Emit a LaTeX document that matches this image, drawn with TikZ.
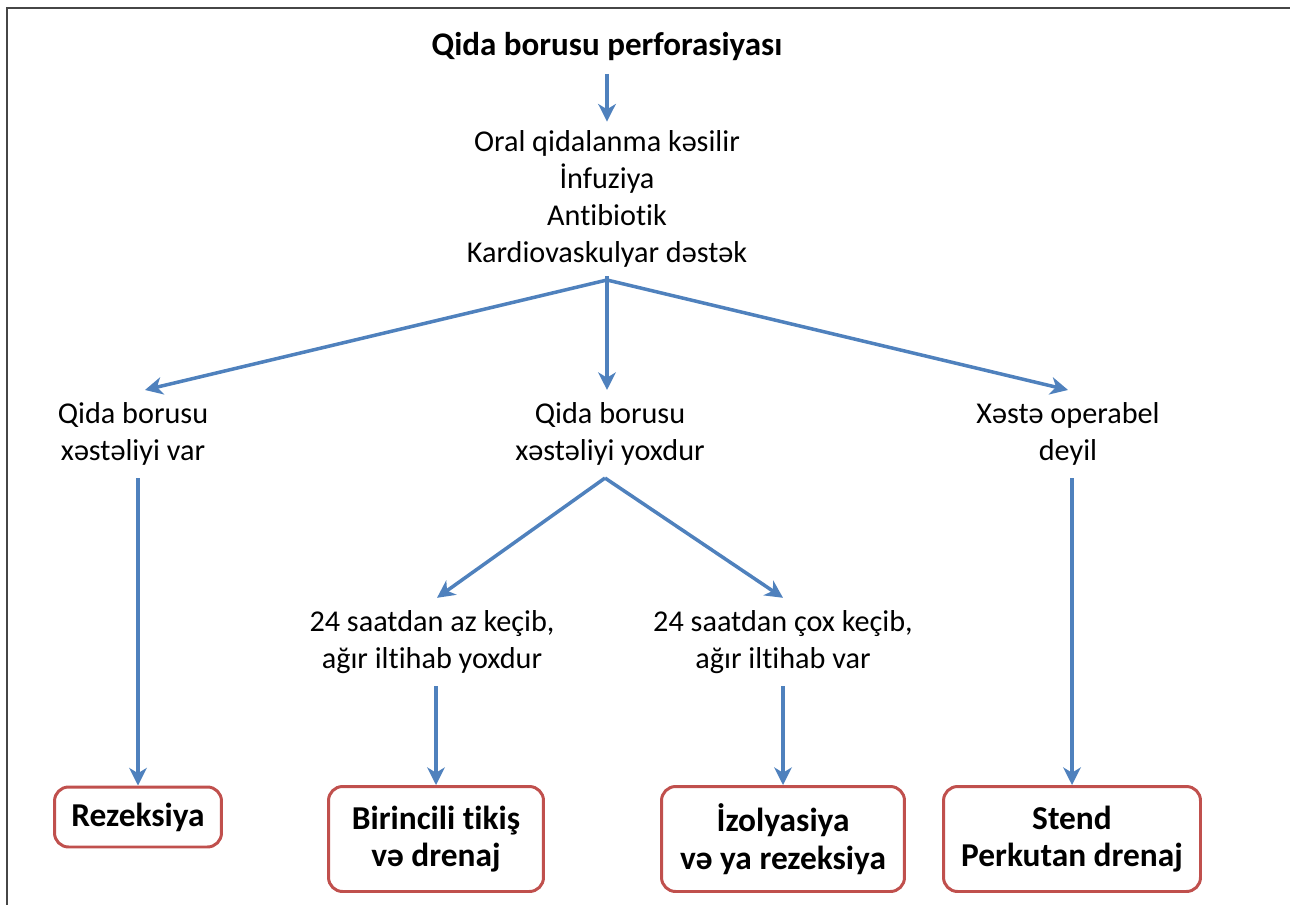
\documentclass[tikz,border=0pt]{standalone}
\usepackage{fontspec}
\setmainfont{Carlito}[Ligatures={NoCommon}]
\usepackage{tikz}
\usetikzlibrary{calc,positioning,arrows.meta}
\definecolor{flowblue}{RGB}{79,129,189}
\definecolor{boxred}{RGB}{192,80,77}
\definecolor{framegray}{RGB}{70,70,70}
\tikzstyle{txt}    = [align=center, inner sep=1pt]
\tikzstyle{result} = [draw=boxred, line width=1.7pt, rounded corners=8pt, align=center, font=\bfseries\fontsize{19pt}{21.5pt}\selectfont, inner sep=0pt]
\tikzstyle{arrow}  = [draw=flowblue, line width=2pt, -{Stealth[length=10pt,width=10pt,inset=3pt]}]

\begin{document}
\begin{tikzpicture}[x=0.02cm, y=-0.02cm,
			font=\fontsize{17.2pt}{21pt}\selectfont]
		\useasboundingbox (0,0) rectangle (1290,905);
		\draw[framegray, line width=1.2pt] (7,905) -- (7,8) -- (1290,8);

		\node[txt, font=\bfseries\fontsize{18.8pt}{21pt}\selectfont] (title) at (607,47) {Qida borusu perforasiyası};
		\node[txt] (care) at (607,199) {Oral qidalanma kəsilir\\İnfuziya\\Antibiotik\\Kardiovaskulyar dəstək};
		\coordinate (fork) at (607,280);

		\node[txt] (dis)   at (133,434) {Qida borusu\\xəstəliyi var};
		\node[txt] (nodis) at (610,434) {Qida borusu\\xəstəliyi yoxdur};
		\node[txt] (inop)  at (1068,434) {Xəstə operabel\\deyil};

		\node[txt] (early) at (432,642) {24 saatdan az keçib,\\ağır iltihab yoxdur};
		\node[txt] (late)  at (783,642) {24 saatdan çox keçib,\\ağır iltihab var};

		\node[result, minimum width=3.34cm, minimum height=1.2cm] (resect) at (138,817) {Rezeksiya};
		\node[result, minimum width=4.3cm, minimum height=2.1cm] (primary) at (436,839) {Birincili tikiş\\və drenaj};
		\node[result, minimum width=4.86cm, minimum height=2.1cm] (isol) at (783,839) {İzolyasiya\\və ya rezeksiya};
		\node[result, minimum width=5.14cm, minimum height=2.1cm] (stent) at (1072,839) {Stend\\Perkutan drenaj};

		\draw[arrow] ([yshift=-6pt]title.south) -- ([yshift=4pt]care.north);
		\draw[flowblue, line width=2pt] ([yshift=-4pt]care.south) -- (fork);
		\draw[arrow] (fork) -- ([xshift=0.24cm, yshift=6pt]dis.north);
		\draw[arrow] (fork) -- ($(nodis.north -| fork)+(0,6pt)$);
		\draw[arrow] (fork) -- ([yshift=6pt]inop.north);

		\draw[arrow] ([xshift=-0.1cm, yshift=-6pt]nodis.south) -- ([xshift=0.1cm, yshift=6pt]early.north);
		\draw[arrow] ([xshift=-0.1cm, yshift=-6pt]nodis.south) -- ([yshift=6pt]late.north);

		\draw[arrow] ($(resect.north |- dis.south)+(0,-6pt)$) -- (resect.north);
		\draw[arrow] ($(primary.north |- early.south)+(0,-6pt)$) -- (primary.north);
		\draw[arrow] ($(isol.north |- late.south)+(0,-6pt)$) -- (isol.north);
		\draw[arrow] ($(stent.north |- inop.south)+(0,-6pt)$) -- (stent.north);
	\end{tikzpicture}
\end{document}
